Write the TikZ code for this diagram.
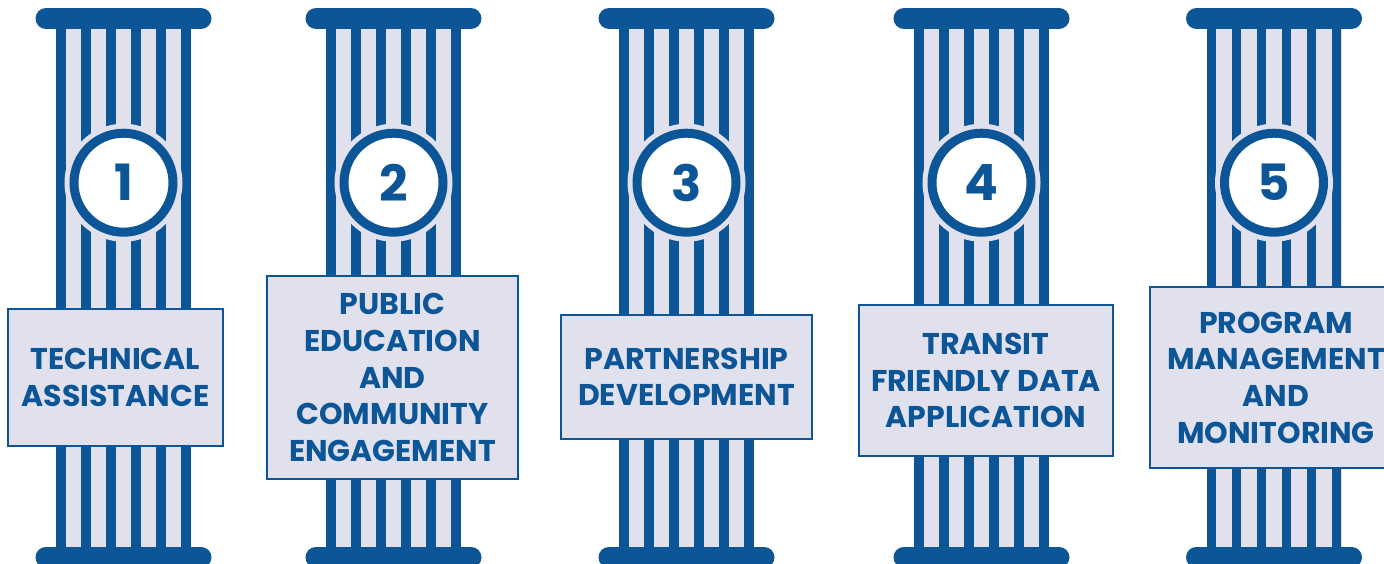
\documentclass[tikz,border=0pt]{standalone}
\usepackage{fontspec}
\setmainfont{Poppins}
\definecolor{dblue}{HTML}{0C5597}
\definecolor{lav}{HTML}{E1E1EE}
\begin{document}
\begin{tikzpicture}[x=1pt,y=-1pt,
  stripe/.style={dblue,line width=9.6pt},
  capbar/.style={dblue,line width=21pt,line cap=round},
  ring/.style={circle,draw=dblue,line width=9pt,fill=white,minimum size=99pt,inner sep=0pt,
    font=\bfseries\fontsize{50}{50}\selectfont,text=dblue},
  tagbox/.style={draw=dblue,line width=2pt,fill=lav,inner sep=0pt,align=center,text=dblue,
    font=\bfseries\fontsize{30}{36.7}\selectfont}]
\useasboundingbox (0,0) rectangle (1384,563);
\clip (0,0) rectangle (1384,563);
\foreach \cx/\n in {123.5/1,393.5/2,686.5/3,981.5/4,1274/5}{
  \fill[lav] (\cx-67.5,28) rectangle (\cx+67.5,548);
  \foreach \i in {0,...,5} \draw[stripe] (\cx-62.5+25*\i,28) -- (\cx-62.5+25*\i,548);
  \draw[capbar] (\cx-77.5,18.5) -- (\cx+77.5,18.5);
  \draw[capbar] (\cx-77.5,557.2) -- (\cx+77.5,557.2);
  \fill[lav] (\cx,182.7) circle[radius=59];
  \node[ring] (c\n) at (\cx,182.7) {\n};
}
\node[tagbox,minimum width=215pt,minimum height=137pt] (b1) at (115.5,377.5) {TECHNICAL\\ASSISTANCE};
\node[tagbox,minimum width=251pt,minimum height=203pt] (b2) at (392.5,377.5) {PUBLIC\\EDUCATION\\AND\\COMMUNITY\\ENGAGEMENT};
\node[tagbox,minimum width=251pt,minimum height=124pt] (b3) at (686.5,377) {PARTNERSHIP\\DEVELOPMENT};
\node[tagbox,minimum width=254pt,minimum height=151pt] (b4) at (986,380.5) {TRANSIT\\FRIENDLY DATA\\APPLICATION};
\node[tagbox,minimum width=252pt,minimum height=181pt] (b5) at (1276,377.5) {PROGRAM\\MANAGEMENT\\AND\\MONITORING};
\end{tikzpicture}
\end{document}
